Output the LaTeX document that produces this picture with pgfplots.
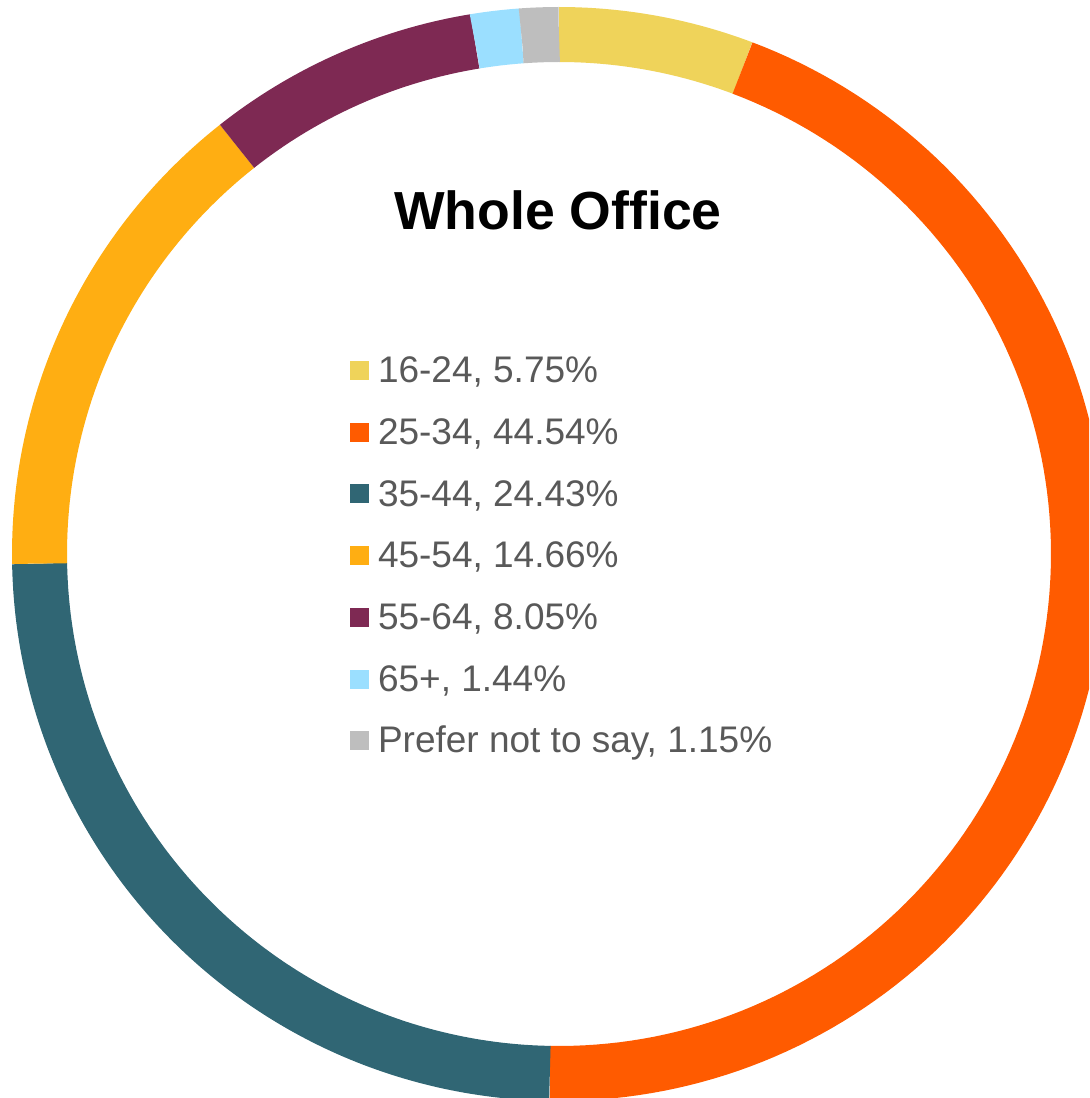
\documentclass[border=0pt]{standalone}
\usepackage{fontspec}
\setmainfont{Liberation Sans}
\usepackage{pgfplots}
\usepackage{pgfplotstable}
\pgfplotsset{compat=1.18}
\definecolor{c1}{HTML}{EFD35A}
\definecolor{c2}{HTML}{FF5B00}
\definecolor{c3}{HTML}{306674}
\definecolor{c4}{HTML}{FFAE12}
\definecolor{c5}{HTML}{7E2953}
\definecolor{c6}{HTML}{9BDFFF}
\definecolor{c7}{HTML}{BEBEBE}
\definecolor{txt}{HTML}{595959}
\pgfplotstableread{
name value col
16-24 5.75 c1
25-34 44.54 c2
35-44 24.43 c3
45-54 14.66 c4
55-64 8.05 c5
65+ 1.44 c6
{Prefer not to say} 1.15 c7
}\agedata
\begin{document}
\begin{tikzpicture}
\begin{axis}[
  width=544.5pt, height=549pt, scale only axis,
  xmin=0, xmax=1089, ymin=0, ymax=1098,
  hide axis,
  legend style={at={(axis cs:350,755.3)}, anchor=north west, draw=none, fill=none,
    inner sep=0pt, outer sep=0pt, row sep=0pt, column sep=4.5pt,
    font=\fontsize{18.5pt}{20pt}\selectfont, text=txt,
    nodes={inner sep=0pt, text height=20pt, text depth=10.85pt}},
  legend cell align=left,
]
\def\cum{0}
\pgfplotsforeachungrouped \i in {0,...,6}{%
  \pgfplotstablegetelem{\i}{value}\of\agedata \let\myv\pgfplotsretval
  \pgfplotstablegetelem{\i}{col}\of\agedata \let\myc\pgfplotsretval
  \pgfplotstablegetelem{\i}{name}\of\agedata \let\myn\pgfplotsretval
  \pgfmathsetmacro\aa{90-(\cum+\myv)/100.02*360}%
  \pgfmathsetmacro\bb{90-\cum/100.02*360}%
  \pgfmathsetmacro\cum{\cum+\myv}%
  \edef\temp{\noexpand\addplot[draw=\myc, line width=27.5pt, domain=\aa:\bb, samples=120,
     legend image code/.code={\noexpand\path[draw=none, line width=0pt, fill=\myc] (0pt,-3.25pt) rectangle (9.5pt,6.25pt);}]
     ({559+519.5*cos(x)},{544+519.5*sin(x)});
     \noexpand\addlegendentry{\myn, \myv\noexpand\%}}%
  \temp
}
\node[anchor=base, font=\fontsize{26.8pt}{30pt}\selectfont\bfseries] at (axis cs:558,868) {Whole Office};
\end{axis}
\pgfresetboundingbox
\useasboundingbox (current axis.south west) rectangle (current axis.north east);
\end{tikzpicture}
\end{document}
